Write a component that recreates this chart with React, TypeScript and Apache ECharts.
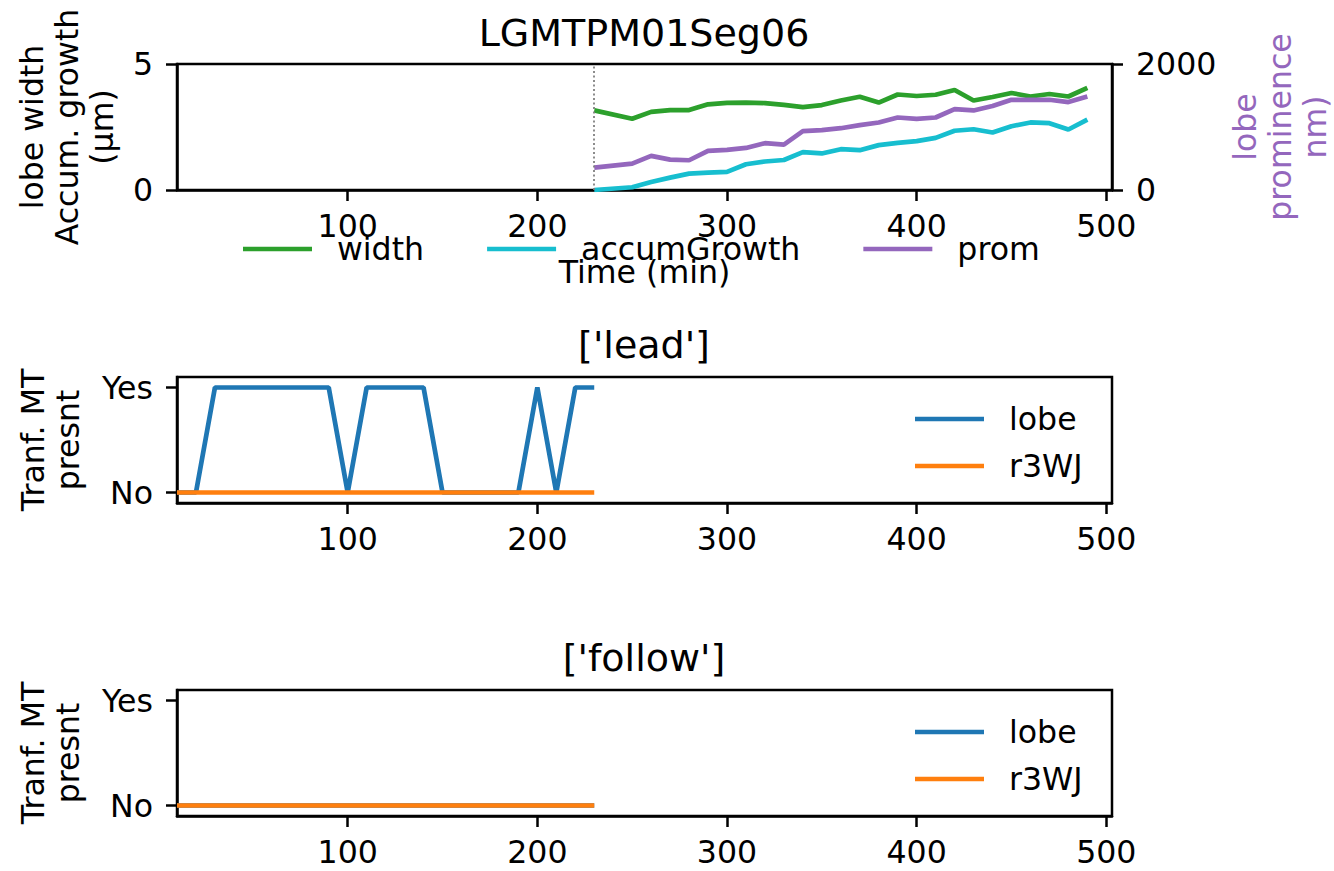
import React, { useEffect, useRef } from "react";
import * as echarts from "echarts";

// Time points (min) of the lobe measurements
const timeTop = [230, 250, 260, 270, 280, 290, 300, 310, 320, 330, 340, 350, 360, 370, 380, 390, 400, 410, 420, 430, 440, 450, 460, 470, 480, 490];
// Lobe width (µm)
const widthUm = [3.16, 2.83, 3.1, 3.17, 3.17, 3.4, 3.46, 3.47, 3.45, 3.38, 3.29, 3.37, 3.55, 3.7, 3.47, 3.79, 3.73, 3.78, 3.97, 3.55, 3.69, 3.85, 3.71, 3.81, 3.71, 4.05];
// Accumulated growth (µm)
const accumGrowthUm = [0, 0.11, 0.32, 0.49, 0.65, 0.69, 0.72, 1.02, 1.13, 1.19, 1.5, 1.45, 1.62, 1.58, 1.78, 1.87, 1.94, 2.07, 2.35, 2.41, 2.28, 2.53, 2.68, 2.65, 2.4, 2.79];
// Lobe prominence (nm)
const promNm = [355, 419, 541, 483, 472, 621, 637, 668, 743, 721, 934, 950, 981, 1029, 1072, 1151, 1130, 1151, 1284, 1263, 1332, 1432, 1432, 1432, 1395, 1485];
const onsetTime = 230;

// Transformed-MT presence (1 = Yes, 0 = No)
const timeTranf = [10, 20, 30, 40, 50, 60, 70, 80, 90, 100, 110, 120, 130, 140, 150, 160, 170, 180, 190, 200, 210, 220, 230];
const leadLobe = [0, 0, 1, 1, 1, 1, 1, 1, 1, 0, 1, 1, 1, 1, 0, 0, 0, 0, 0, 1, 0, 1, 1];
const leadR3WJ = [0, 0, 0, 0, 0, 0, 0, 0, 0, 0, 0, 0, 0, 0, 0, 0, 0, 0, 0, 0, 0, 0, 0];
const followLobe = [0, 0, 0, 0, 0, 0, 0, 0, 0, 0, 0, 0, 0, 0, 0, 0, 0, 0, 0, 0, 0, 0, 0];
const followR3WJ = [0, 0, 0, 0, 0, 0, 0, 0, 0, 0, 0, 0, 0, 0, 0, 0, 0, 0, 0, 0, 0, 0, 0];

const xTicks = [100, 200, 300, 400, 500];
const yesNoTicks = [0, 1];

const FONT = "DejaVu Sans";
const BLACK = "#000";
const FS = 31.6;
const TITLE_FS = 38;
const SPINE = 2.5;
const TICK_LEN = 11;
const LW = 4.7;
const C = { width: "#2ca02c", accum: "#17becf", prom: "#9467bd", lobe: "#1f77b4", r3wj: "#ff7f0e" };

const zip = (xs: number[], ys: number[]) => xs.map((x, i) => [x, ys[i]]);

const GRID_LEFT = 177;
const GRID_W = 935;
const GRID_H = 126;
const gridTops = [64, 377, 690];

const spine = { show: true, onZero: false, lineStyle: { color: BLACK, width: SPINE } };
const tickStyle = { color: BLACK, width: SPINE };

function xAxisFor(gridIndex: number, extra: any = {}) {
  return {
    type: "value",
    gridIndex,
    min: 10,
    max: 503,
    axisLine: spine,
    axisTick: { show: true, length: TICK_LEN, customValues: xTicks, lineStyle: tickStyle },
    axisLabel: { customValues: xTicks, fontSize: FS, color: BLACK, margin: 20, fontFamily: FONT, lineHeight: 32 },
    splitLine: { show: false },
    ...extra,
  };
}

function yesNoAxis(gridIndex: number) {
  return {
    type: "value",
    gridIndex,
    min: -0.1,
    max: 1.1,
    name: "Tranf. MT\npresnt",
    nameLocation: "middle",
    nameRotate: 90,
    nameGap: 92,
    nameTextStyle: { fontSize: FS, lineHeight: 35, color: BLACK, fontFamily: FONT },
    axisLine: spine,
    axisTick: { show: true, length: TICK_LEN, customValues: yesNoTicks, lineStyle: tickStyle },
    axisLabel: {
      customValues: yesNoTicks,
      fontSize: FS,
      color: BLACK,
      margin: 24,
      fontFamily: FONT,
      formatter: (v: number) => (v === 1 ? "Yes" : v === 0 ? "No" : ""),
    },
    splitLine: { show: false },
  };
}

const lineSeries = (name: string, color: string, xi: number, yi: number, data: number[][], extra: any = {}) => ({
  type: "line",
  name,
  xAxisIndex: xi,
  yAxisIndex: yi,
  data,
  showSymbol: false,
  symbol: "none",
  color,
  lineStyle: { color, width: LW },
  emphasis: { disabled: true },
  ...extra,
});

const legendText = { fontSize: FS, color: BLACK, fontFamily: FONT, lineHeight: 32, padding: [0, 0, 0, 20] };
const legendBase = {
  icon: "rect",
  itemWidth: 69,
  itemHeight: LW,
  padding: 0,
  textStyle: legendText,
  selectedMode: false,
};

const option: any = {
  animation: false,
  textStyle: { fontFamily: FONT, color: BLACK },
  title: [
    { text: "LGMTPM01Seg06", top: 14 },
    { text: "['lead']", top: 326 },
    { text: "['follow']", top: 639 },
  ].map((t) => ({
    ...t,
    left: 644,
    textAlign: "center",
    padding: 0,
    textStyle: { fontSize: TITLE_FS, fontWeight: "normal", color: BLACK, fontFamily: FONT, lineHeight: 38 },
  })),
  legend: [
    { ...legendBase, data: ["width", "accumGrowth", "prom"], orient: "horizontal", left: 243, top: 233, itemGap: 63 },
    { ...legendBase, data: ["lobe", "r3WJ"], orient: "vertical", left: 915, top: 403, itemGap: 15 },
    { ...legendBase, data: ["lobe", "r3WJ"], orient: "vertical", left: 915, top: 716, itemGap: 15 },
  ],
  grid: gridTops.map((top) => ({
    left: GRID_LEFT,
    width: GRID_W,
    top,
    height: GRID_H,
    show: true,
    borderColor: BLACK,
    borderWidth: SPINE,
    outerBoundsMode: "none",
    containLabel: false,
  })),
  xAxis: [
    xAxisFor(0, {
      name: "Time (min)",
      nameLocation: "middle",
      nameGap: 66,
      nameTextStyle: { fontSize: FS, lineHeight: 32, color: BLACK, fontFamily: FONT },
    }),
    xAxisFor(1),
    xAxisFor(2),
  ],
  yAxis: [
    {
      type: "value",
      gridIndex: 0,
      position: "left",
      min: 0,
      max: 5,
      interval: 5,
      name: "lobe width\nAccum. growth\n(µm)",
      nameLocation: "middle",
      nameRotate: 90,
      nameGap: 58,
      nameTextStyle: { fontSize: FS, lineHeight: 35, color: BLACK, fontFamily: FONT },
      axisLine: spine,
      axisTick: { show: true, length: TICK_LEN, lineStyle: tickStyle },
      axisLabel: { fontSize: FS, color: BLACK, margin: 24, fontFamily: FONT },
      splitLine: { show: false },
    },
    {
      type: "value",
      gridIndex: 0,
      position: "right",
      min: 0,
      max: 2000,
      interval: 2000,
      name: "lobe\nprominence\nnm)",
      nameLocation: "middle",
      nameRotate: 90,
      nameGap: 113,
      nameTextStyle: { fontSize: FS, lineHeight: 35, color: C.prom, fontFamily: FONT },
      axisLine: spine,
      axisTick: { show: true, length: TICK_LEN, lineStyle: tickStyle },
      axisLabel: { fontSize: FS, color: BLACK, margin: 24, fontFamily: FONT, formatter: (v: number) => String(v) },
      splitLine: { show: false },
    },
    yesNoAxis(1),
    yesNoAxis(2),
  ],
  series: [
    lineSeries("width", C.width, 0, 0, zip(timeTop, widthUm), {
      markLine: {
        silent: true,
        symbol: ["none", "none"],
        label: { show: false },
        emphasis: { disabled: true },
        lineStyle: { type: [2, 2.5], color: "#808080", width: 1.8 },
        data: [{ xAxis: onsetTime }],
      },
    }),
    lineSeries("accumGrowth", C.accum, 0, 0, zip(timeTop, accumGrowthUm)),
    lineSeries("prom", C.prom, 0, 1, zip(timeTop, promNm)),
    lineSeries("lobe", C.lobe, 1, 2, zip(timeTranf, leadLobe)),
    lineSeries("r3WJ", C.r3wj, 1, 2, zip(timeTranf, leadR3WJ)),
    lineSeries("lobe", C.lobe, 2, 3, zip(timeTranf, followLobe)),
    lineSeries("r3WJ", C.r3wj, 2, 3, zip(timeTranf, followR3WJ)),
  ],
};

export default function App() {
  const ref = useRef<HTMLDivElement>(null);
  useEffect(() => {
    if (!ref.current) return;
    const chart = echarts.init(ref.current, null, { renderer: "svg" });
    chart.setOption(option);
    return () => chart.dispose();
  }, []);
  return (
    <div
      ref={ref}
      style={{ position: "absolute", left: 0, top: 0, width: 1334, height: 871, background: "#fff" }}
    />
  );
}
